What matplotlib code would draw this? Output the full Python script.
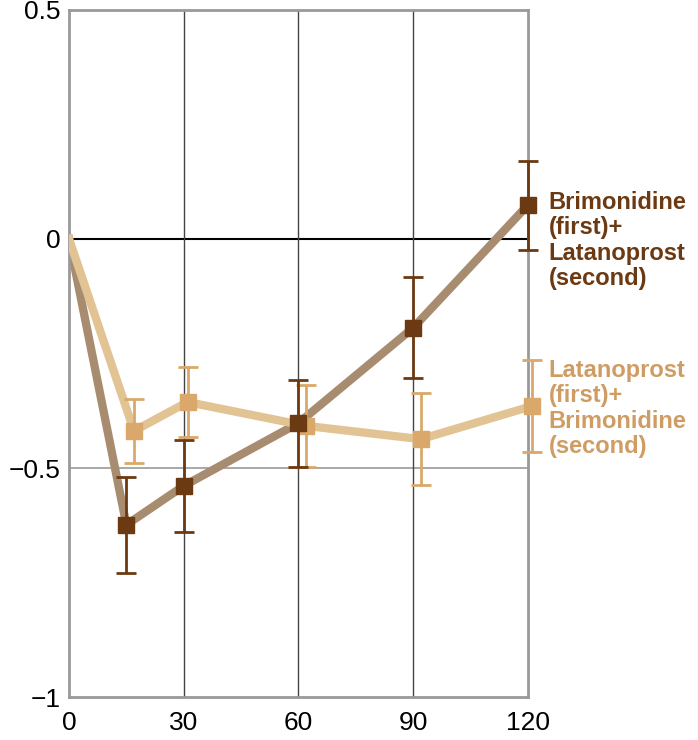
import matplotlib
matplotlib.use('Agg')
import matplotlib.pyplot as plt

plt.rcParams['font.family'] = ['Liberation Sans', 'DejaVu Sans']

# Brimonidine (first) + Latanoprost (second)
brim_x = [0, 15, 30, 60, 90, 120]
brim_y = [0, -0.624, -0.539, -0.402, -0.194, 0.074]
brim_err = [0, 0.105, 0.10, 0.095, 0.11, 0.097]

# Latanoprost (first) + Brimonidine (second)
lat_x = [0, 17, 31, 62, 92, 121]
lat_y = [0, -0.419, -0.356, -0.408, -0.437, -0.365]
lat_err = [0, 0.07, 0.077, 0.09, 0.10, 0.10]

x_ticks = [0, 30, 60, 90, 120]
y_ticks = [0.5, 0, -0.5, -1]
y_labels = ['0.5', '0', '\u22120.5', '\u22121']

dark_line = '#a88c70'
dark_mark = '#6b3a12'
light_line = '#e2c394'
light_mark = '#d9a86a'
light_text = '#cf9d63'

fig = plt.figure(figsize=(6.98, 7.4), dpi=100)
ax = fig.add_axes([0.0989, 0.0581, 0.6573, 0.9284])

ax.axhline(0, color='black', lw=1.5, zorder=1)
ax.axhline(-0.5, color='#999999', lw=1.2, zorder=1)
for v in [30, 60, 90]:
    ax.axvline(v, color='#444444', lw=1, zorder=1)

ax.plot(brim_x, brim_y, color=dark_line, lw=6, zorder=2, solid_joinstyle='round')
ax.plot(lat_x, lat_y, color=light_line, lw=6, zorder=3, solid_joinstyle='round')

ax.errorbar(lat_x[1:], lat_y[1:], yerr=lat_err[1:], fmt='s', color=light_mark,
            ms=11, capsize=7, elinewidth=2, capthick=2, zorder=4, clip_on=False)
ax.errorbar(brim_x[1:], brim_y[1:], yerr=brim_err[1:], fmt='s', color=dark_mark,
            ms=11, capsize=7, elinewidth=2, capthick=2, zorder=5, clip_on=False)

ax.set_xlim(0, 120)
ax.set_ylim(-1, 0.5)
ax.set_xticks(x_ticks)
ax.set_yticks(y_ticks)
ax.set_yticklabels(y_labels)
ax.tick_params(length=0, labelsize=19)
ax.tick_params(axis='x', pad=10)
ax.tick_params(axis='y', pad=6)
for s in ax.spines.values():
    s.set_color('#999999')
    s.set_linewidth(2)

ax.text(1.045, 0.105, 'Brimonidine\n(first)+\nLatanoprost\n(second)',
        transform=ax.get_yaxis_transform(), color=dark_mark, fontsize=17,
        fontweight='bold', va='top', ha='left', linespacing=1.13)
ax.text(1.045, -0.262, 'Latanoprost\n(first)+\nBrimonidine\n(second)',
        transform=ax.get_yaxis_transform(), color=light_text, fontsize=17,
        fontweight='bold', va='top', ha='left', linespacing=1.13)

fig.savefig('out.png', dpi=100)
